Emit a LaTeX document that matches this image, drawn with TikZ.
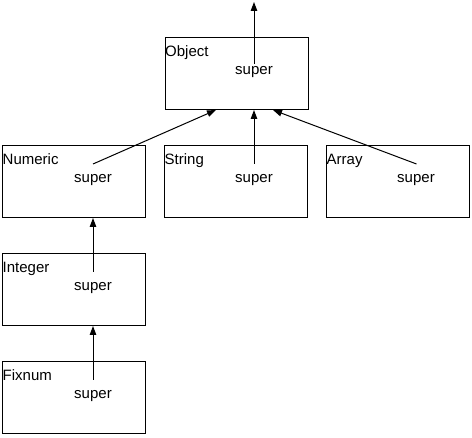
\documentclass[tikz,border=0pt]{standalone}
\usepackage{fontspec}
\setmainfont{Liberation Sans}
\usetikzlibrary{arrows.meta,calc}
\begin{document}
\begin{tikzpicture}[x=1pt,y=-1pt,
  box/.style={draw, line width=1pt, minimum width=143pt, minimum height=72pt, inner sep=0pt},
  lbl/.style={anchor=base west, inner sep=0pt, font=\fontsize{15pt}{15pt}\selectfont},
  sup/.style={anchor=base, inner sep=0pt, font=\fontsize{15pt}{15pt}\selectfont},
  conn/.style={line width=1pt, -{Triangle[length=9pt,width=6.5pt]}}]
\useasboundingbox (0,0) rectangle (472,438);
% boxes
\node[box] (obj) at (236.5,74) {};
\node[box] (num) at (74,182) {};
\node[box] (str) at (236,182) {};
\node[box] (arr) at (398,182) {};
\node[box] (int) at (74,290) {};
\node[box] (fix) at (74,398) {};
% labels
\node[lbl] (objL) at ($(obj.north west)+(0.5,19)$) {Object};
\node[lbl] (numL) at ($(num.north west)+(0.5,19)$) {Numeric};
\node[lbl] (strL) at ($(str.north west)+(0.5,19)$) {String};
\node[lbl] (arrL) at ($(arr.north west)+(0.5,19)$) {Array};
\node[lbl] (intL) at ($(int.north west)+(0.5,19)$) {Integer};
\node[lbl] (fixL) at ($(fix.north west)+(0.5,19)$) {Fixnum};
% super
\node[sup] (objS) at (254,75) {super};
\node[sup] (numS) at (93,183) {super};
\node[sup] (strS) at (254,183) {super};
\node[sup] (arrS) at (416,183) {super};
\node[sup] (intS) at (93,291) {super};
\node[sup] (fixS) at (93,399) {super};
% connector points
\coordinate (objC) at (254,64);
\coordinate (top) at (254,2);
\coordinate (numC) at (93,164);
\coordinate (strC) at (254,164);
\coordinate (arrC) at (416.5,164);
\coordinate (intC) at (93,272);
\coordinate (fixC) at (93,380);
\coordinate (objIn1) at (216,110);
\coordinate (objIn2) at (254,110);
\coordinate (objIn3) at (273,110);
\coordinate (numIn) at (93,218);
\coordinate (intIn) at (93,326);
% connectors
\draw[conn] (objC) -- (top);
\draw[conn] (numC) -- (objIn1);
\draw[conn] (strC) -- (objIn2);
\draw[conn] (arrC) -- (objIn3);
\draw[conn] (intC) -- (numIn);
\draw[conn] (fixC) -- (intIn);
\end{tikzpicture}
\end{document}
